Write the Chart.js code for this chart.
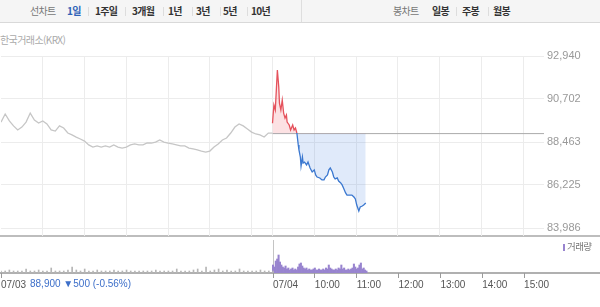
<!DOCTYPE html>
<html lang="ko">
<head>
<meta charset="utf-8">
<script src="https://cdn.jsdelivr.net/npm/chart.js@4/dist/chart.umd.min.js"></script>
<style>
  body { margin: 0; width: 600px; height: 307px; position: relative; overflow: hidden; background: #fff;
         font-family: "Noto Sans CJK KR", "Noto Sans", sans-serif; }
  .topbar { position: absolute; left: 0; top: 0; width: 600px; height: 22px; background: #f5f5f5;
            border-bottom: 1px solid #d9d9d9; }
  .topbar .div { position: absolute; left: 301px; top: 0; width: 1px; height: 22px; background: #dedede; }
  .t { position: absolute; top: 4px; font-size: 10px; line-height: 14px; letter-spacing: -0.7px; white-space: nowrap; }
  .t.b { font-weight: bold; color: #333; }
  .t.g { color: #777; }
  .t.on { color: #2f63b8; }
  .sep { position: absolute; top: 7px; width: 1px; height: 9px; background: #ddd; }
  .src { position: absolute; left: 0; top: 33px; font-size: 10px; line-height: 14px; color: #aaa; letter-spacing: -0.6px; }
  .hline { position: absolute; left: 0; width: 600px; height: 2px; }
  canvas { position: absolute; left: 0; }
  .chg { position: absolute; left: 30px; top: 278px; font-family: "Liberation Sans", sans-serif; font-size: 10px;
         line-height: 12px; color: #3d6fc9; white-space: nowrap; }
  .legend { position: absolute; left: 563px; top: 240px; font-size: 9.5px; line-height: 13px; color: #777; letter-spacing: -0.6px; }
  .legend i { display: inline-block; width: 2px; height: 7px; background: #9884cf; margin-right: 2px; vertical-align: -1px; }
</style>
</head>
<body>
<div class="topbar">
  <div class="div"></div>
  <span class="t g" style="left:30px">선차트</span>
  <span class="t b on" style="left:67px">1일</span><span class="sep" style="left:88px"></span>
  <span class="t b" style="left:95px">1주일</span><span class="sep" style="left:125px"></span>
  <span class="t b" style="left:132px">3개월</span><span class="sep" style="left:163px"></span>
  <span class="t b" style="left:168px">1년</span><span class="sep" style="left:192px"></span>
  <span class="t b" style="left:196px">3년</span><span class="sep" style="left:220px"></span>
  <span class="t b" style="left:223px">5년</span><span class="sep" style="left:247px"></span>
  <span class="t b" style="left:251px">10년</span>
  <span class="t g" style="left:393px">봉차트</span>
  <span class="t b" style="left:432px">일봉</span><span class="sep" style="left:456px"></span>
  <span class="t b" style="left:462px">주봉</span><span class="sep" style="left:488px"></span>
  <span class="t b" style="left:493px">월봉</span>
</div>
<div class="src">한국거래소(KRX)</div>

<div class="hline" style="top:235px;background:#bdbdbd"></div>
<div class="hline" style="top:272px;background:#b0b0b0"></div>

<canvas id="price" width="600" height="190" style="top:46px"></canvas>
<canvas id="vol" width="600" height="55" style="top:238px"></canvas>

<div class="legend"><i></i>거래량</div>
<div class="chg">88,900 ▼500 (-0.56%)</div>

<script>
// minutes counted from 07/03 09:00; 07/04 09:00 = 390, 07/04 15:30 = 780
const X_MAX = 780;
const DAY2_START = 390;
const PREV_CLOSE = 88900;

const yTicks = [83986, 86225, 88463, 90702, 92940];
const gridMinutes = [60, 120, 180, 240, 300, 360, 390, 450, 510, 570, 630, 690, 750];
const labelMinutes = [0, 390, 450, 510, 570, 630, 690, 750];
const timeLabels = ["07/03", "07/04", "10:00", "11:00", "12:00", "13:00", "14:00", "15:00"];

// 07/03, 6-minute samples
const DAY1_STEP = 6;
const day1Prices = [
  89500, 89920, 89560, 89300, 89090, 89240, 89500, 89970, 89610, 89450,
  89560, 89400, 89090, 89030, 89300, 89190, 88930, 88830, 88720, 88620,
  88510, 88310, 88200, 88260, 88200, 88260, 88200, 88310, 88200, 88150,
  88200, 88310, 88360, 88310, 88310, 88410, 88410, 88460, 88570, 88460,
  88410, 88360, 88310, 88260, 88260, 88150, 88100, 88050, 87990, 87940,
  87990, 88200, 88360, 88570, 88670, 88930, 89240, 89400, 89300, 89140,
  88980, 88880, 88830, 88720, 88930, 88930
];
const day1Volume = [
  2, 2, 3, 2, 2, 2, 4, 2, 2, 3, 2, 2, 5, 2, 2, 2, 3, 6, 3, 2,
  4, 2, 2, 3, 2, 2, 2, 3, 2, 2, 3, 2, 2, 2, 2, 2, 2, 3, 2, 2,
  2, 2, 4, 2, 2, 2, 3, 4, 2, 6, 2, 3, 4, 2, 3, 2, 2, 4, 2, 2,
  2, 2, 3, 2, 2, 2
];

// 07/04, minutes after 09:00
const day2Minutes = [
  0, 2, 4, 7, 9, 10, 12, 14, 16, 18, 20, 21, 24, 26, 29, 31, 33, 35,
  37, 38, 40, 41, 43, 44, 46, 49, 51, 54, 57, 60, 62, 64, 68, 71, 74, 76, 79, 81, 83, 86,
  88, 90, 93, 95, 98, 100, 102, 105, 107, 110, 112, 114, 117, 119, 121, 124, 126, 129, 131, 134
];
const day2Prices = [
  89440, 90390, 90130, 92210, 91330, 90490, 90130, 90650, 89970, 89710, 89870, 89500, 89350, 89090, 89350, 89090, 89190, 88930,
  88310, 88050, 87680, 87210, 87680, 87370, 87420, 87270, 87420, 87110, 86900, 87010, 86750, 86640, 86590, 86490, 86490, 86640, 86750, 87010, 87110, 86900,
  86640, 86540, 86590, 86430, 86330, 86230, 86070, 85810, 85700, 85700, 85700, 85700, 85600, 85500, 85180, 84870, 85080, 85130, 85180, 85290
];
// 07/04 volume, 2-minute bars
const DAY2_VOL_STEP = 2;
const day2Volume = [
  8, 6, 12, 14, 18, 11, 8, 6, 5, 7, 4, 5, 3, 4, 5, 3, 4, 3, 6, 9,
  10, 7, 5, 4, 5, 3, 4, 3, 3, 4, 5, 3, 3, 4, 3, 3, 4, 3, 5, 4,
  8, 5, 4, 3, 3, 4, 3, 5, 4, 8, 4, 5, 3, 3, 4, 3, 4, 5, 9, 6,
  4, 5, 8, 10, 4, 5, 3, 2
];
const VOL_MAX = 33;

const RED = "#e5525c";
const BLUE = "#3b78d0";
const GRID = "#ececec";

Chart.defaults.font.family = "'Liberation Sans', Arial, sans-serif";

new Chart(document.getElementById("price"), {
  type: "line",
  data: {
    datasets: [
      {
        data: day1Prices.map((p, i) => ({ x: i * DAY1_STEP, y: p })),
        borderColor: "#c6c6c6",
        borderWidth: 1.3,
        pointRadius: 0,
        fill: false,
      },
      {
        data: day2Minutes.map((m, i) => ({ x: DAY2_START + m, y: day2Prices[i] })),
        borderColor: RED,
        segment: { borderColor: (c) => (c.p1.parsed.y < PREV_CLOSE ? BLUE : RED) },
        borderWidth: 1.3,
        pointRadius: 0,
        fill: { target: { value: PREV_CLOSE }, above: "rgba(236,80,90,0.17)", below: "rgba(70,130,225,0.17)" },
      },
      {
        data: [{ x: DAY2_START, y: PREV_CLOSE }, { x: X_MAX, y: PREV_CLOSE }],
        borderColor: "#aaaaaa",
        borderWidth: 1,
        pointRadius: 0,
        fill: false,
      },
    ],
  },
  options: {
    responsive: false,
    animation: false,
    events: [],
    layout: { padding: { top: 10, left: 1 } },
    plugins: { legend: { display: false }, tooltip: { enabled: false } },
    scales: {
      x: {
        type: "linear", min: 0, max: X_MAX,
        afterBuildTicks: (s) => { s.ticks = gridMinutes.map((v) => ({ value: v })); },
        afterFit: (s) => { s.height = 8; s.paddingLeft = 0; s.paddingRight = 0; },
        ticks: { display: false },
        grid: { color: GRID, tickColor: GRID, tickLength: 8 },
        border: { display: false },
      },
      y: {
        position: "right", min: yTicks[0], max: yTicks[yTicks.length - 1],
        afterBuildTicks: (s) => { s.ticks = yTicks.map((v) => ({ value: v })); },
        afterFit: (s) => { s.width = 56; s.paddingTop = 0; s.paddingBottom = 0; },
        ticks: { color: "#999", font: { size: 11 }, padding: 3, callback: (v) => v.toLocaleString("en-US") },
        grid: { color: GRID, drawTicks: false },
        border: { display: false },
      },
    },
  },
});

new Chart(document.getElementById("vol"), {
  type: "bar",
  data: {
    datasets: [
      {
        data: day1Volume.map((v, i) => ({ x: i * DAY1_STEP, y: v })),
        backgroundColor: "#b5b5b5",
        barThickness: 1,
        grouped: false,
      },
      {
        data: day2Volume.map((v, i) => ({ x: DAY2_START + i * DAY2_VOL_STEP, y: v })),
        backgroundColor: "#9884cf",
        barThickness: 1.4,
        grouped: false,
      },
    ],
  },
  options: {
    responsive: false,
    animation: false,
    events: [],
    layout: { padding: { top: 2, left: 1, right: 55 } },
    plugins: { legend: { display: false }, tooltip: { enabled: false } },
    scales: {
      x: {
        type: "linear", min: 0, max: X_MAX, offset: false,
        afterBuildTicks: (s) => { s.ticks = labelMinutes.map((v) => ({ value: v })); },
        afterFit: (s) => { s.height = 20; s.paddingLeft = 0; s.paddingRight = 0; },
        ticks: {
          color: "#555", font: { size: 10 }, align: "start", padding: 1,
          maxRotation: 0, autoSkip: false,
          callback: (v, i) => timeLabels[i],
        },
        grid: {
          offset: false,
          color: (c) => (c.tick && c.tick.value === DAY2_START ? "#c4c4c4" : "rgba(0,0,0,0)"),
          tickColor: "#9a9a9a",
          tickLength: 5,
        },
        border: { display: false },
      },
      y: { display: false, min: 0, max: VOL_MAX },
    },
  },
});
</script>
</body>
</html>
